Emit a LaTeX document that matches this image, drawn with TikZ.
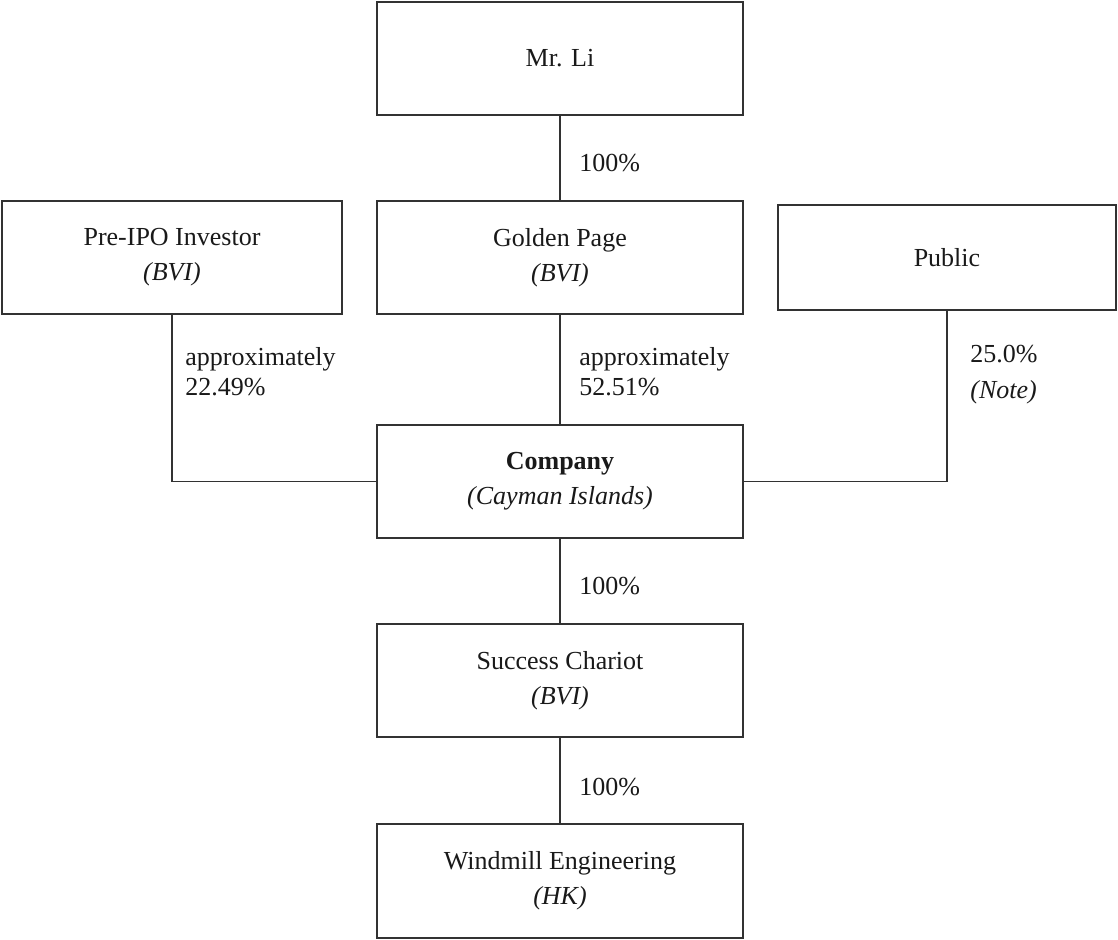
\documentclass[tikz,border=0pt]{standalone}
\usepackage{fontspec}
\setmainfont{Liberation Serif}
\usepackage{tikz}
\usepackage{xcolor}
\definecolor{linegray}{RGB}{50,50,50}

\begin{document}
\begin{tikzpicture}[x = .5pt, y = -.5pt,
  box/.style = {draw=linegray, line width=.8pt, minimum width=183pt, minimum height=56.5pt, align=center, inner sep=0pt, text=black!90, font=\fontsize{13}{17.5}\selectfont},
  pct/.style = {anchor=west, align=left, inner sep=0pt, text=black!90, font=\fontsize{13}{15}\selectfont},
  link/.style = {draw=linegray, line width=.8pt}]
  \useasboundingbox (0, 0) rectangle (1118, 939);
  \node[box] (mrli) at (560, 58.5) {Mr. Li};
  \node[box, minimum width=170pt] (preipo) at (172, 257.5) {Pre-IPO Investor\\\textit{(BVI)}};
  \node[box] (golden) at (560, 257.5) {Golden Page\\\textit{(BVI)}};
  \node[box, minimum width=169pt, minimum height=52.5pt] (public) at (947, 257.5) {Public};
  \node[box] (company) at (560, 481.5) {\textbf{Company}\\\textit{(Cayman Islands)}};
  \node[box] (success) at (560, 680.5) {Success Chariot\\\textit{(BVI)}};
  \node[box, minimum height=57pt] (windmill) at (560, 881) {Windmill Engineering\\\textit{(HK)}};
  % links
  \draw[link] (mrli) -- (golden);
  \draw[link] (golden) -- (company);
  \draw[link] (preipo.south) |- (company.west);
  \draw[link] (public.south) |- (company.east);
  \draw[link] (company) -- (success);
  \draw[link] (success) -- (windmill);
  % shares
  \node[pct] (pmrli) at (579, 163) {100\%};
  \node[pct] (ppreipo) at (185, 372) {approximately\\22.49\%};
  \node[pct] (pgolden) at (579, 372) {approximately\\52.51\%};
  \node[pct] (ppublic) at (970, 375) {25.0\%\\[3pt]\textit{(Note)}};
  \node[pct] (pcompany) at (579, 586) {100\%};
  \node[pct] (psuccess) at (579, 787) {100\%};
 \end{tikzpicture}
\end{document}
